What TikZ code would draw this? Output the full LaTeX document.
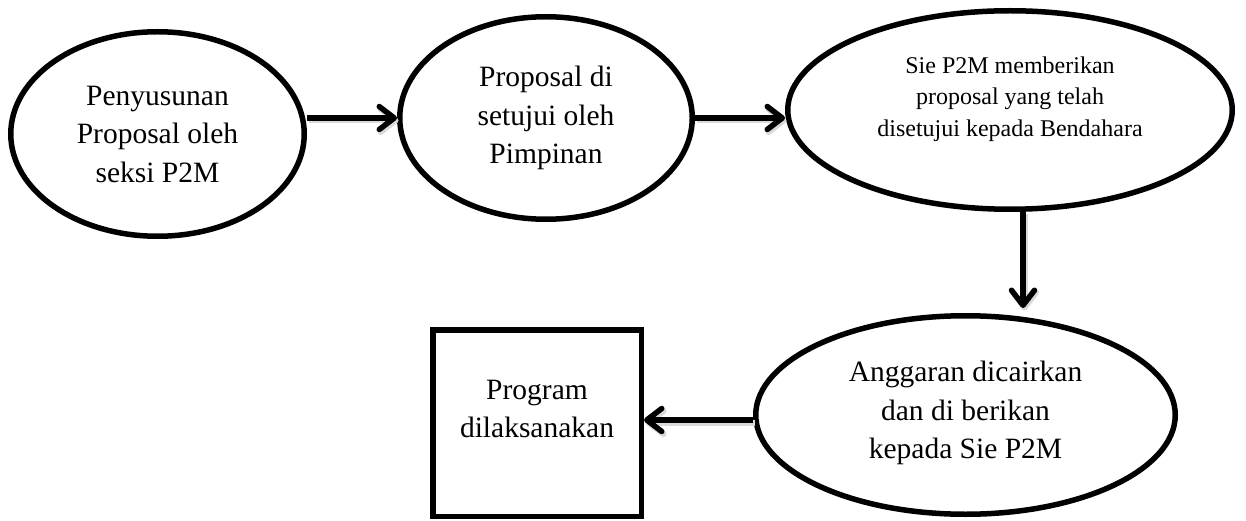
\documentclass[tikz,border=0pt]{standalone}
\usepackage{fontspec}
\setmainfont{Liberation Serif}
\usetikzlibrary{shapes.geometric,arrows.meta}
\begin{document}
\begin{tikzpicture}[x=1pt,y=1pt,
  stage/.style={ellipse,draw,line width=5.5pt,inner sep=0pt,fill=white},
  endbox/.style={rectangle,draw,line width=5.5pt,inner sep=0pt,fill=white},
  txt/.style={align=center,inner sep=0pt,font=\fontsize{29.5}{38.5}\selectfont},
  smalltxt/.style={align=center,inner sep=0pt,font=\fontsize{24}{31.5}\selectfont},
  flow/.style={line width=5.5pt,
    -{Straight Barb[length=15pt,width=23pt,round]},
    preaction={draw=black!15,line width=6pt,
      transform canvas={shift={(1.5pt,-2.5pt)}}}}]
\useasboundingbox (0,0) rectangle (1246,520);

% stages of the process
\node[stage, minimum width=293.5pt, minimum height=204.5pt] (e1) at (157.5,386) {};
\node[txt] (t1) at (e1.center) {Penyusunan\\Proposal oleh\\seksi P2M};

\node[stage, minimum width=292.5pt, minimum height=202.5pt] (e2) at (546,402) {};
\node[txt] (t2) at (e2.center) {Proposal di\\setujui oleh\\Pimpinan};

\node[stage, minimum width=444.5pt, minimum height=198.5pt] (e3) at (1010,410) {};
\node[smalltxt] (t3) at ([yshift=11pt]e3.center) {Sie P2M memberikan\\proposal yang telah\\disetujui kepada Bendahara};

\node[stage, minimum width=419.5pt, minimum height=198.5pt] (e4) at (965.5,105) {};
\node[txt] (t4) at ([yshift=2pt]e4.center) {Anggaran dicairkan\\dan di berikan\\kepada Sie P2M};

\node[endbox, minimum width=208.5pt, minimum height=186.5pt] (box) at (537,97) {};
\node[txt] (tb) at ([yshift=14pt]box.center) {Program\\dilaksanakan};

% connectors
\draw[flow] (e1.east |- e2.west) -- (e2.west);
\draw[flow] (e2.east) -- (e2.east -| e3.west);
\draw[flow] ([xshift=13pt]e3.south) -- ([xshift=57.5pt,yshift=5pt]e4.north);
\draw[flow] ([yshift=-5pt]e4.west) -- ([yshift=-5pt]e4.west -| box.east);
\end{tikzpicture}
\end{document}
